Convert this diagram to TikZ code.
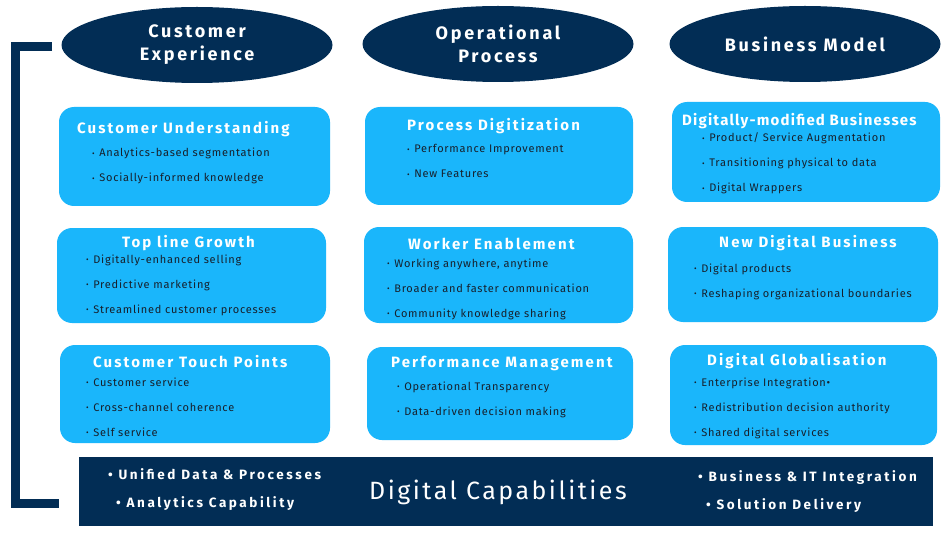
\documentclass[tikz,border=0pt]{standalone}
\usepackage{fontspec}
\usetikzlibrary{shapes.geometric}
\setmainfont{Fira Sans}
\newfontfamily\headfont[LetterSpace=15]{Fira Sans}
\newfontfamily\titlefont[LetterSpace=14]{Fira Sans}
\newfontfamily\titletight[LetterSpace=8]{Fira Sans}
\newfontfamily\baritemfont[LetterSpace=19]{Fira Sans}
\newfontfamily\itemfont[LetterSpace=7]{Fira Sans}
\newfontfamily\capfont[LetterSpace=10]{Fira Sans}
\definecolor{navy}{HTML}{022D55}
\definecolor{sky}{HTML}{1AB6FB}
\definecolor{ink}{HTML}{17202C}
\newcommand\bul{{\fontsize{8}{8}\selectfont\raisebox{0.5pt}{•}}\hspace{4.5pt}}
\begin{document}
\begin{tikzpicture}[x=1pt,y=-1pt,
  head/.style={ellipse, fill=navy, text=white, align=center, inner sep=0pt,
    minimum width=271pt, minimum height=76pt,
    font=\headfont\bfseries\fontsize{18}{23}\selectfont},
  card/.style={rectangle, fill=sky, rounded corners=15pt, inner sep=0pt},
  ctitle/.style={anchor=base west, inner sep=0pt, text=white,
    font=\titlefont\bfseries\fontsize{15}{18}\selectfont},
  citem/.style={anchor=base west, inner sep=0pt, text=ink,
    font=\itemfont\fontsize{11}{13}\selectfont},
  bitem/.style={anchor=base west, inner sep=0pt, text=white,
    font=\baritemfont\bfseries\fontsize{13.5}{16}\selectfont}]
\useasboundingbox[fill=white] (0,0) rectangle (950,548);

% left bracket
\draw[navy, line width=9pt] (52,47) -- (15,47) -- (15,503) -- (59,503);

% column headers
\node[head] (ce) at (197,45) {Customer\\Experience};
\node[head] (op) at (498,44) {Operational\\Process};
\node[head] (bm) at (805,44) {Business Model};

% cards
\node[card, minimum width=271pt, minimum height=99pt] (cu)  at (194.5,156.5) {};
\node[card, minimum width=268pt, minimum height=98pt] (pd)  at (499,156) {};
\node[card, minimum width=268pt, minimum height=100pt] (dmb) at (806,152) {};
\node[card, minimum width=269pt, minimum height=95pt] (tlg) at (191.5,275.5) {};
\node[card, minimum width=269pt, minimum height=96pt] (we)  at (498.5,275) {};
\node[card, minimum width=270pt, minimum height=95pt] (ndb) at (803,274.5) {};
\node[card, minimum width=270pt, minimum height=98pt] (ctp) at (195,394) {};
\node[card, minimum width=266pt, minimum height=93pt] (pm)  at (500,393.5) {};
\node[card, minimum width=267pt, minimum height=100pt] (dg) at (803.5,395) {};

% Customer Understanding
\node[ctitle] (cut) at (77,133.5) {Customer Understanding};
\node[citem] (cu1) at (92,157) {\bul Analytics-based segmentation};
\node[citem] (cu2) at (92,182) {\bul Socially-informed knowledge};
% Process Digitization
\node[ctitle] (pdt) at (407,130.5) {Process Digitization};
\node[citem] (pd1) at (407,153) {\bul Performance Improvement};
\node[citem] (pd2) at (407,178) {\bul New Features};
% Digitally-modified Businesses
\node[ctitle, font=\titletight\bfseries\fontsize{15}{18}\selectfont] (dmbt) at (682,125.5) {Digitally-modified Businesses};
\node[citem] (dmb1) at (702,142) {\bul Product/ Service Augmentation};
\node[citem] (dmb2) at (702,167) {\bul Transitioning physical to data};
\node[citem] (dmb3) at (702,192) {\bul Digital Wrappers};
% Top line Growth
\node[ctitle] (tlgt) at (122,247.5) {Top line Growth};
\node[citem] (tlg1) at (86,263) {\bul Digitally-enhanced selling};
\node[citem] (tlg2) at (86,288) {\bul Predictive marketing};
\node[citem] (tlg3) at (86,313) {\bul Streamlined customer processes};
% Worker Enablement
\node[ctitle] (wet) at (408,249.5) {Worker Enablement};
\node[citem] (we1) at (387,267) {\bul Working anywhere, anytime};
\node[citem] (we2) at (387,292) {\bul Broader and faster communication};
\node[citem] (we3) at (387,317) {\bul Community knowledge sharing};
% New Digital Business
\node[ctitle] (ndbt) at (719,247.5) {New Digital Business};
\node[citem] (ndb1) at (694,272) {\bul Digital products};
\node[citem] (ndb2) at (694,297) {\bul Reshaping organizational boundaries};
% Customer Touch Points
\node[ctitle] (ctpt) at (93,367.5) {Customer Touch Points};
\node[citem] (ctp1) at (86,386) {\bul Customer service};
\node[citem] (ctp2) at (86,411) {\bul Cross-channel coherence};
\node[citem] (ctp3) at (86,436) {\bul Self service};
% Performance Management
\node[ctitle] (pmt) at (391,367.5) {Performance Management};
\node[citem] (pm1) at (397,390) {\bul Operational Transparency};
\node[citem] (pm2) at (397,415) {\bul Data-driven decision making};
% Digital Globalisation
\node[ctitle] (dgt) at (707,365.5) {Digital Globalisation};
\node[citem] (dg1) at (694,386) {\bul Enterprise Integration•};
\node[citem] (dg2) at (694,411) {\bul Redistribution decision authority};
\node[citem] (dg3) at (694,436) {\bul Shared digital services};

% foundation bar
\node[rectangle, fill=navy, minimum width=854pt, minimum height=69pt, inner sep=0pt] (dc) at (506,491.5) {};
\node[anchor=base west, inner sep=0pt, text=white, font=\capfont\fontsize{25}{30}\selectfont] (dct) at (369,499) {Digital Capabilities};
\node[bitem] (dc1) at (108,479.6) {• Unified Data \& Processes};
\node[bitem] (dc2) at (116,507.6) {• Analytics Capability};
\node[bitem] (dc3) at (698,481.6) {• Business \& IT Integration};
\node[bitem] (dc4) at (706,509.6) {• Solution Delivery};
\end{tikzpicture}
\end{document}
